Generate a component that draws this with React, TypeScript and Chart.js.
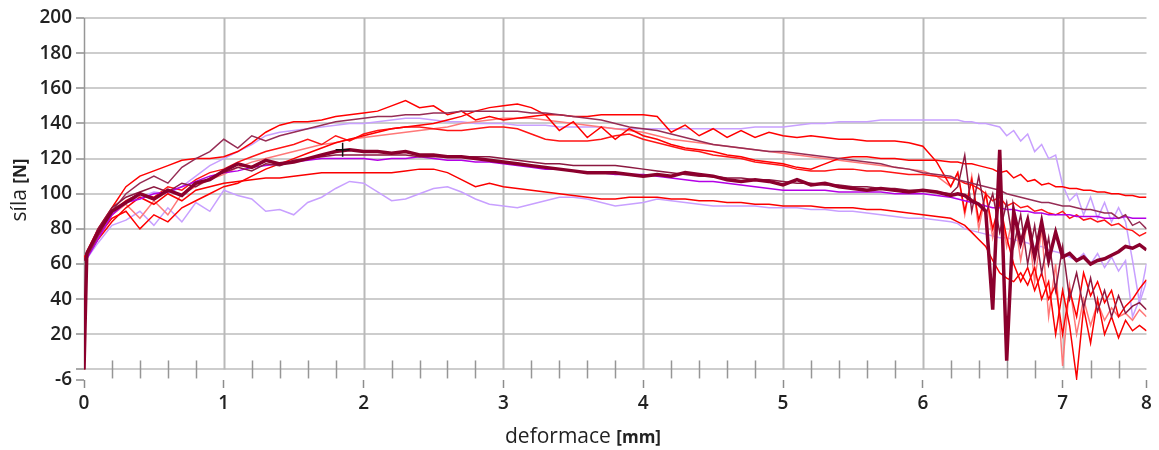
import React, { useEffect, useRef } from "react";
import { Chart, registerables } from "chart.js";

Chart.register(...registerables);

// shared x grid (deformace, mm)
const X = [0, 0.02,
  0.1, 0.2, 0.3, 0.4, 0.5, 0.6, 0.7, 0.8, 0.9, 1.0,
  1.1, 1.2, 1.3, 1.4, 1.5, 1.6, 1.7, 1.8, 1.9, 2.0,
  2.1, 2.2, 2.3, 2.4, 2.5, 2.6, 2.7, 2.8, 2.9, 3.0,
  3.1, 3.2, 3.3, 3.4, 3.5, 3.6, 3.7, 3.8, 3.9, 4.0,
  4.1, 4.2, 4.3, 4.4, 4.5, 4.6, 4.7, 4.8, 4.9, 5.0,
  5.1, 5.2, 5.3, 5.4, 5.5, 5.6, 5.7, 5.8, 5.9, 6.0,
  6.1, 6.2,
  6.25, 6.3, 6.35, 6.4, 6.45, 6.5, 6.55, 6.6, 6.65, 6.7,
  6.75, 6.8, 6.85, 6.9, 6.95, 7.0, 7.05, 7.1, 7.15, 7.2,
  7.25, 7.3, 7.35, 7.4, 7.45, 7.5, 7.55,
  7.6];

// síla [N] series
const THICK_MAROON = [0, 66,
  78, 90, 95, 100, 97, 102, 99, 106, 108, 113,
  117, 115, 119, 117, 118, 120, 122, 124, 125, 124,
  124, 123, 124, 122, 122, 121, 121, 120, 119, 118,
  117, 116, 115, 114, 113, 112, 112, 112, 111, 110,
  111, 110, 112, 111, 110, 108, 107, 108, 107, 105,
  108, 105, 106, 104, 103, 102, 103, 102, 101, 102,
  101, 99,
  100, 99, 96, 94, 90, 34, 125, 5, 90, 72,
  85, 64, 84, 62, 78, 64, 66, 62, 64, 60,
  62, 63, 65, 67, 70, 69, 71,
  68];

const MAROON_UPPER = [62, 64,
  76, 90, 100, 106, 110, 106, 115, 120, 124, 131,
  126, 133, 130, 133, 135, 137, 139, 141, 142, 143,
  144, 144, 145, 145, 146, 146, 147, 147, 147, 147,
  147, 146, 146, 145, 144, 143, 142, 140, 138, 137,
  136, 134, 132, 130, 128, 127, 126, 125, 124, 124,
  123, 122, 121, 120, 119, 118, 117, 115, 114, 112,
  111, 110,
  108, 107, 106, 105, 104, 103, 102, 100, 99, 98,
  97, 96, 95, 95, 94, 93, 93, 92, 91, 91,
  90, 89, 89, 86, 88, 82, 84,
  80];

const MAROON_LOWER = [62, 66,
  80, 92, 98, 101, 104, 101, 106, 104, 109, 112,
  115, 113, 117, 116, 119, 120, 121, 122, 122, 122,
  122, 122, 122, 121, 121, 121, 121, 121, 121, 120,
  119, 118, 117, 117, 116, 116, 116, 116, 115, 114,
  113, 112, 111, 110, 110, 109, 109, 108, 108, 107,
  106, 106, 105, 105, 104, 104, 103, 103, 102, 102,
  101, 100,
  104, 122, 90, 110, 88, 100, 78, 95, 70, 88,
  60, 82, 55, 75, 45, 70, 40, 55, 35, 52,
  33, 45, 30, 42, 32, 36, 38,
  34];

const PURPLE = [63, 63,
  74, 88, 95, 97, 100, 101, 104, 107, 110, 112,
  113, 115, 116, 117, 118, 119, 120, 120, 120, 120,
  119, 120, 120, 121, 120, 119, 119, 118, 118, 117,
  116, 115, 114, 114, 113, 112, 112, 111, 111, 111,
  110, 109, 108, 107, 107, 106, 105, 104, 103, 102,
  102, 102, 102, 101, 101, 101, 101, 100, 100, 100,
  99, 98,
  97, 96, 95, 94, 93, 92, 92, 91, 91, 90,
  90, 89, 89, 88, 88, 88, 88, 87, 87, 87,
  87, 86, 86, 86, 87, 86, 86,
  86];

const LAVENDER_HIGH = [64, 64,
  75, 88, 95, 98, 101, 100, 104, 110, 116, 120,
  124, 128, 133, 135, 136, 137, 138, 139, 140, 140,
  141, 142, 143, 143, 142, 141, 141, 140, 140, 140,
  139, 139, 139, 138, 138, 138, 138, 137, 137, 137,
  137, 137, 137, 137, 137, 137, 137, 138, 138, 138,
  139, 140, 140, 141, 141, 141, 142, 142, 142, 142,
  142, 142,
  142, 141, 141, 140, 140, 139, 138, 133, 136, 130,
  134, 124, 128, 120, 122, 105, 96, 100, 88, 98,
  86, 95, 84, 92, 84, 62, 38,
  50];

const LAVENDER_LOW = [63, 63,
  72, 82, 85, 90, 82, 92, 84, 95, 90, 102,
  99, 97, 90, 91, 88, 95, 98, 103, 107, 106,
  101, 96, 97, 100, 103, 104, 101, 97, 94, 93,
  92, 94, 96, 98, 98, 97, 95, 93, 94, 95,
  97, 96, 95, 94, 93, 93, 93, 93, 92, 92,
  92, 91, 91, 90, 90, 89, 88, 87, 86, 86,
  85, 84,
  83, 80, 79, 78, 77, 76, 75, 75, 74, 73,
  72, 70, 70, 68, 67, 66, 64, 62, 66, 60,
  66, 58, 64, 56, 62, 30, 40,
  60];

const RED_TOP = [0, 67,
  80, 92, 104, 110, 113, 116, 119, 120, 120, 121,
  124, 129, 135, 139, 141, 141, 142, 144, 145, 146,
  147, 150, 153, 149, 150, 145, 147, 142, 144, 142,
  143, 144, 145, 145, 144, 144, 145, 145, 145, 145,
  144, 135, 139, 133, 137, 132, 136, 132, 135, 133,
  132, 133, 132, 131, 131, 130, 130, 130, 129, 127,
  118, 104,
  112, 90, 108, 85, 100, 80, 95, 75, 60, 50,
  58, 45, 55, 40, 48, 20, 45, 30, 55, 42,
  50, 38, 45, 30, 36, 40, 46,
  51];

const RED_PEAK3 = [64, 65,
  76, 86, 90, 80, 88, 84, 92, 96, 100, 104,
  106, 110, 114, 117, 120, 123, 126, 129, 131, 133,
  135, 137, 138, 139, 140, 142, 144, 147, 149, 150,
  151, 149, 145, 136, 141, 132, 138, 131, 137, 133,
  131, 128, 126, 125, 124, 122, 121, 119, 118, 117,
  115, 114, 117, 120, 121, 121, 120, 120, 119, 119,
  119, 118,
  118, 117, 117, 116, 115, 114, 112, 113, 109, 111,
  107, 108, 105, 106, 104, 104, 103, 103, 102, 102,
  101, 101, 100, 100, 99, 99, 98,
  98];

const RED_MID = [64, 66,
  78, 90, 96, 100, 98, 104, 102, 108, 112, 114,
  118, 121, 124, 126, 128, 131, 128, 133, 130, 134,
  136, 137, 138, 138, 137, 136, 136, 137, 138, 138,
  137, 134, 131, 130, 130, 130, 131, 133, 134, 131,
  129, 127, 125, 124, 122, 121, 120, 118, 117, 116,
  114, 113, 113, 114, 114, 113, 113, 112, 111, 111,
  110, 109,
  108, 106, 105, 103, 100, 96, 98, 93, 95, 92,
  93, 90, 91, 89, 88, 90, 86, 88, 85, 86,
  84, 85, 82, 83, 80, 79, 76,
  78];

const RED_LOW = [64, 64,
  74, 84, 92, 98, 94, 100, 96, 102, 104, 106,
  107, 108, 109, 109, 110, 111, 112, 112, 112, 112,
  112, 112, 113, 114, 114, 112, 108, 104, 106, 104,
  103, 102, 101, 100, 99, 98, 97, 97, 98, 98,
  98, 97, 97, 96, 96, 95, 95, 94, 94, 93,
  93, 93, 92, 92, 92, 91, 91, 90, 89, 88,
  87, 86,
  84, 82, 78, 74, 70, 62, 55, 52, 50, 55,
  48, 58, 40, 50, 20, 45, 25, -5, 35, 15,
  40, 20, 30, 18, 28, 22, 25,
  22];

const RED_LIGHT = [64, 65,
  76, 88, 94, 86, 96, 88, 100, 104, 108, 111,
  115, 118, 120, 122, 124, 126, 128, 129, 131, 132,
  133, 134, 135, 136, 137, 138, 140, 141, 142, 143,
  143, 143, 142, 141, 140, 139, 138, 137, 136, 135,
  133, 131, 130, 129, 128, 127, 126, 125, 124, 123,
  122, 121, 120, 119, 118, 117, 116, 115, 114, 113,
  110, 104,
  112, 88, 110, 80, 100, 75, 95, 70, 90, 62,
  85, 50, 80, 30, 60, 2, 48, 20, 40, 25,
  38, 28, 35, 30, 32, 28, 34,
  30];

const CROSS_X = [1.85];
const CROSS_Y = [125];

const X_TICKS = [0, 1, 2, 3, 4, 5, 6, 7, 7.6];
const X_TICK_LABELS = ["0", "1", "2", "3", "4", "5", "6", "7", "8"];
const Y_TICKS = [-6, 0, 20, 40, 60, 80, 100, 120, 140, 160, 180, 200];
const Y_TICK_LABELS = ["-6", "", "20", "40", "60", "80", "100", "120", "140", "160", "180", "200"];

const X_TITLE = "deformace";
const X_UNIT = "[mm]";
const Y_TITLE = "síla";
const Y_UNIT = "[N]";

const pts = (ys: number[]) => X.map((x, i) => ({ x, y: ys[i] }));

const FONT = "'Open Sans', 'DejaVu Sans', sans-serif";

const gridPlugin = {
  id: "customGrid",
  beforeDatasetsDraw(chart: any) {
    const { ctx, chartArea, scales } = chart;
    const xs = scales.x;
    const ys = scales.y;
    const y0 = ys.getPixelForValue(0);
    ctx.save();
    for (let v = 0; v <= 7; v++) {
      const px = Math.round(xs.getPixelForValue(v)) + 0.5;
      ctx.strokeStyle = v === 0 ? "rgb(150,150,150)" : "rgb(185,185,185)";
      ctx.lineWidth = v === 0 ? 1.5 : 2;
      ctx.beginPath();
      ctx.moveTo(px, chartArea.top);
      ctx.lineTo(px, y0);
      ctx.stroke();
    }
    ctx.strokeStyle = "rgb(150,150,150)";
    ctx.lineWidth = 1.5;
    for (let k = 1; k < 38; k++) {
      if (k % 5 === 0) continue;
      const px = Math.round(xs.getPixelForValue(k / 5)) + 0.5;
      ctx.beginPath();
      ctx.moveTo(px, y0 - 9);
      ctx.lineTo(px, y0 + 9);
      ctx.stroke();
    }
    ctx.restore();
  },
};

const titlePlugin = {
  id: "axisTitles",
  afterDraw(chart: any) {
    const { ctx } = chart;
    ctx.save();
    ctx.fillStyle = "#222";
    ctx.textBaseline = "alphabetic";
    ctx.textAlign = "left";
    const fN = `normal 21px ${FONT}`;
    const fB = `bold 17px ${FONT}`;
    ctx.font = fN;
    const w1 = ctx.measureText(X_TITLE + " ").width;
    ctx.font = fB;
    const w2 = ctx.measureText(X_UNIT).width;
    const sx = 583 - (w1 + w2) / 2;
    ctx.font = fN;
    ctx.fillText(X_TITLE + " ", sx, 443);
    ctx.font = fB;
    ctx.fillText(X_UNIT, sx + w1, 443);
    ctx.translate(26, 190);
    ctx.rotate(-Math.PI / 2);
    ctx.font = fN;
    const v1 = ctx.measureText(Y_TITLE + " ").width;
    ctx.font = fB;
    const v2 = ctx.measureText(Y_UNIT).width;
    const s = -(v1 + v2) / 2;
    ctx.font = fN;
    ctx.fillText(Y_TITLE + " ", s, 0);
    ctx.font = fB;
    ctx.fillText(Y_UNIT, s + v1, 0);
    ctx.restore();
  },
};

const line = (data: number[], color: string, width = 1.5) => ({
  type: "line" as const,
  data: pts(data),
  borderColor: color,
  backgroundColor: color,
  borderWidth: width,
  pointRadius: 0,
  tension: 0,
  fill: false,
});

export default function App() {
  const ref = useRef<HTMLCanvasElement | null>(null);
  useEffect(() => {
    if (!ref.current) return;
    const chart = new Chart(ref.current, {
      type: "line",
      data: {
        datasets: [
          {
            type: "scatter",
            data: CROSS_X.map((x, i) => ({ x, y: CROSS_Y[i] })),
            pointStyle: "cross",
            pointRadius: 7,
            borderColor: "#111",
            backgroundColor: "#111",
            borderWidth: 1.5,
          } as any,
          line(THICK_MAROON, "rgb(139,0,45)", 3.5),
          line(MAROON_LOWER, "rgb(140,25,65)"),
          line(MAROON_UPPER, "rgb(150,45,85)"),
          line(PURPLE, "rgb(180,0,230)"),
          line(RED_TOP, "rgb(255,0,0)"),
          line(RED_PEAK3, "rgb(255,0,0)"),
          line(RED_MID, "rgb(255,20,20)"),
          line(RED_LOW, "rgb(250,0,0)"),
          line(RED_LIGHT, "rgb(255,120,120)"),
          line(LAVENDER_HIGH, "rgb(200,160,255)"),
          line(LAVENDER_LOW, "rgb(200,160,255)"),
        ],
      },
      options: {
        animation: false,
        responsive: false,
        devicePixelRatio: 1,
        parsing: false as any,
        normalized: true,
        layout: { padding: { top: 18, right: 12.5, left: 0, bottom: 0 } },
        plugins: {
          legend: { display: false },
          tooltip: { enabled: false },
        },
        scales: {
          x: {
            type: "linear",
            min: 0,
            max: 7.6,
            afterBuildTicks: (scale: any) => {
              scale.ticks = X_TICKS.map((v) => ({ value: v }));
            },
            afterFit: (scale: any) => {
              scale.height = 70;
            },
            ticks: {
              autoSkip: false,
              maxRotation: 0,
              padding: 4,
              color: "#222",
              font: { family: FONT, size: 19, weight: "600" },
              callback: (v: any) => {
                const i = X_TICKS.indexOf(Number(v));
                return i >= 0 ? X_TICK_LABELS[i] : "";
              },
            },
            grid: {
              drawOnChartArea: false,
              drawTicks: true,
              tickLength: 8,
              tickColor: "rgb(140,140,140)",
              tickWidth: 1.5,
            },
            border: { display: false },
          },
          y: {
            type: "linear",
            min: -6,
            max: 200,
            afterBuildTicks: (scale: any) => {
              scale.ticks = Y_TICKS.map((v) => ({ value: v }));
            },
            afterFit: (scale: any) => {
              scale.width = 84;
            },
            ticks: {
              autoSkip: false,
              padding: 4,
              color: "#222",
              font: { family: FONT, size: 19, weight: "600" },
              callback: (v: any) => {
                const i = Y_TICKS.indexOf(Number(v));
                return i >= 0 ? Y_TICK_LABELS[i] : "";
              },
            },
            grid: {
              color: (c: any) => (c.tick && c.tick.value === -6 ? "rgba(0,0,0,0)" : "rgb(205,205,205)"),
              lineWidth: 2,
              drawTicks: true,
              tickLength: 8,
              tickColor: "rgb(140,140,140)",
              tickWidth: 1.5,
            },
            border: { display: false },
          },
        },
      } as any,
      plugins: [gridPlugin, titlePlugin],
    });
    return () => chart.destroy();
  }, []);

  return (
    <div style={{ position: "fixed", left: 0, top: 0, width: 1159, height: 450, background: "#fff" }}>
      <canvas ref={ref} width={1159} height={450} style={{ display: "block" }} />
    </div>
  );
}
